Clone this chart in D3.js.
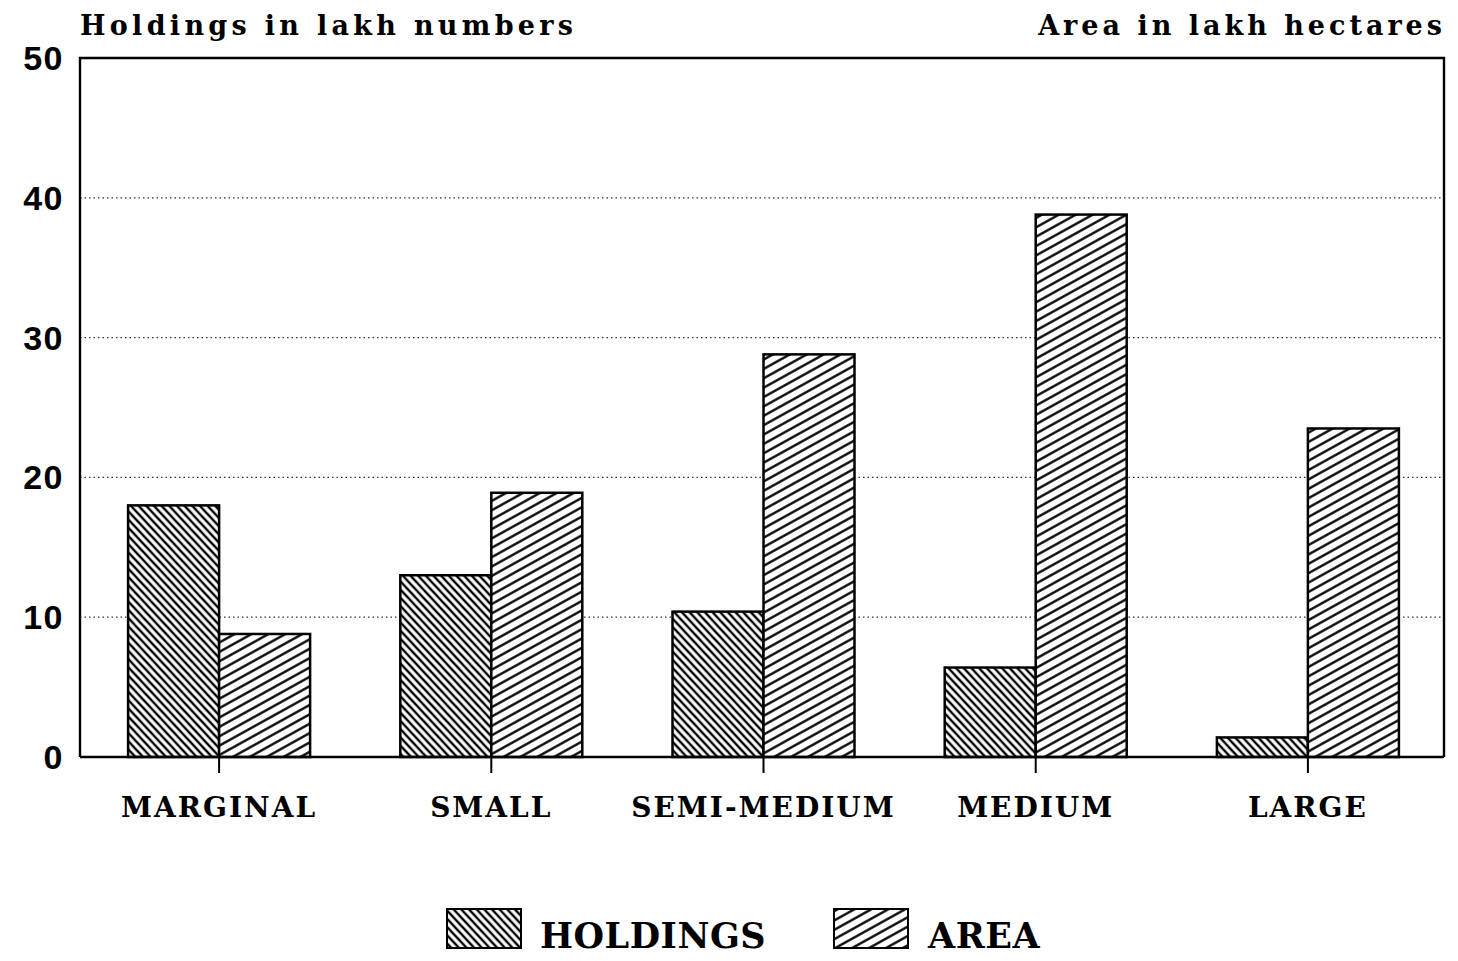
<!DOCTYPE html>
<html><head><meta charset="utf-8">
<script src="https://cdn.jsdelivr.net/npm/d3@7"></script>
<style>body{margin:0;background:#fff}</style>
</head><body>
<svg id="c" width="1458" height="961"></svg>
<script>
const categories = ["MARGINAL","SMALL","SEMI-MEDIUM","MEDIUM","LARGE"];
const holdings = [18.0, 13.0, 10.4, 6.4, 1.4];
const area = [8.8, 18.9, 28.8, 38.8, 23.5];
const yTicks = [0,10,20,30,40,50];
const seriesNames = ["HOLDINGS","AREA"];

const svg = d3.select("#c");
const L = 80, R = 1444, T = 58, B = 757;
const x = d3.scaleBand().domain(categories).range([83, R]).paddingInner(0).paddingOuter(0);
const sub = d3.scaleBand().domain(seriesNames).range([0, 182]);
const y = d3.scaleLinear().domain([0,50]).range([B, T]);

const defs = svg.append("defs");
function hatch(id, angle, spacing, sw){
  const p = defs.append("pattern").attr("id", id).attr("patternUnits","userSpaceOnUse")
    .attr("width", spacing).attr("height", spacing)
    .attr("patternTransform", `rotate(${angle})`);
  p.append("rect").attr("width", spacing).attr("height", spacing).attr("fill","#fff");
  p.append("line").attr("x1",-1).attr("x2",spacing+1).attr("y1",spacing/2).attr("y2",spacing/2)
    .attr("stroke","#000").attr("stroke-width", sw);
}
hatch("hH", 47, 5.6, 2.4);
hatch("hA", -29, 8.2, 2.3);
const fills = {HOLDINGS:"url(#hH)", AREA:"url(#hA)"};

// gridlines
svg.append("g").selectAll("line").data(yTicks.filter(d=>d>0 && d<50)).join("line")
  .attr("x1", L).attr("x2", R).attr("y1", d=>y(d)).attr("y2", d=>y(d))
  .attr("stroke","#333").attr("stroke-width",1.3).attr("stroke-dasharray","1.5,3");

// bars
const g = svg.append("g");
categories.forEach((c,i)=>{
  const cx = x(c) + x.bandwidth()/2;
  const x0 = cx - 91;
  [["HOLDINGS",holdings[i]],["AREA",area[i]]].forEach(([s,v])=>{
    g.append("rect").attr("x", x0 + sub(s)).attr("width", sub.bandwidth())
      .attr("y", y(v)).attr("height", y(0)-y(v))
      .attr("fill", fills[s]).attr("stroke","#000").attr("stroke-width",2.5);
  });
});

// frame
svg.append("path").attr("d", `M${L},${B}V${T}H${R}V${B}`).attr("fill","none").attr("stroke","#000").attr("stroke-width",2.4);
svg.append("line").attr("x1",L).attr("x2",R).attr("y1",B).attr("y2",B).attr("stroke","#000").attr("stroke-width",2.6);

// x axis ticks & labels
const xa = svg.append("g");
categories.forEach(c=>{
  const cx = x(c) + x.bandwidth()/2;
  xa.append("line").attr("x1",cx).attr("x2",cx).attr("y1",B).attr("y2",B+16).attr("stroke","#000").attr("stroke-width",2);
  xa.append("text").attr("x",cx).attr("y",817).attr("text-anchor","middle")
    .attr("font-family","DejaVu Serif").attr("font-weight","bold").attr("font-size",28)
    .attr("letter-spacing",2).text(c);
});

// y tick labels
svg.append("g").selectAll("text").data(yTicks).join("text")
  .attr("x", 64).attr("y", d=>y(d)+12).attr("text-anchor","end")
  .attr("font-family","Liberation Sans").attr("font-weight","bold").attr("font-size",34)
  .attr("letter-spacing",1.5).text(d=>d);

// axis titles
svg.append("text").attr("x",80).attr("y",35).attr("font-family","DejaVu Serif").attr("font-weight","bold")
  .attr("font-size",27).attr("letter-spacing",4.3).text("Holdings in lakh numbers");
svg.append("text").attr("x",1446).attr("y",35).attr("text-anchor","end").attr("font-family","DejaVu Serif").attr("font-weight","bold")
  .attr("font-size",27).attr("letter-spacing",4.0).text("Area in lakh hectares");

// legend
const leg = [{n:"HOLDINGS", x:447, tx:540},{n:"AREA", x:834, tx:928}];
leg.forEach(d=>{
  svg.append("rect").attr("x",d.x).attr("y",909).attr("width",74).attr("height",39)
    .attr("fill",fills[d.n]).attr("stroke","#000").attr("stroke-width",2);
  svg.append("text").attr("x",d.tx).attr("y",948).attr("font-family","DejaVu Serif")
    .attr("font-size",35).attr("letter-spacing",0.5).attr("font-weight","bold").text(d.n);
});
</script>
</body></html>
